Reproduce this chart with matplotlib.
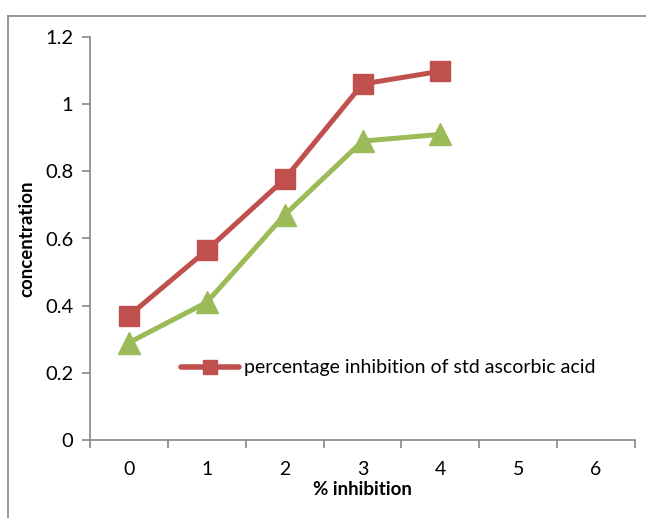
import numpy as np
import matplotlib.pyplot as plt
from matplotlib.lines import Line2D

# values
categories = [0, 1, 2, 3, 4, 5, 6]
std_ascorbic = [0.37, 0.565, 0.777, 1.06, 1.098]
sample = [0.29, 0.41, 0.67, 0.89, 0.91]
legend_label = "percentage inhibition of std ascorbic acid"

plt.rcParams['font.family'] = ['Lato', 'DejaVu Sans']

fig = plt.figure(figsize=(6.46, 5.18), dpi=100)
ax = fig.add_axes([90/646, 78/518, 545/646, 403/518])

gray = "#868686"
red = "#C0504D"
green = "#9BBB59"
fs = 14

x = np.arange(len(std_ascorbic))
ax.plot(x, std_ascorbic, color=red, lw=3.6, marker="s", ms=15,
        solid_joinstyle="round", solid_capstyle="round")
ax.plot(np.arange(len(sample)), sample, color=green, lw=3.6, marker="^", ms=16,
        solid_joinstyle="round", solid_capstyle="round")

ax.set_xlim(-0.5, len(categories) - 0.5)
ax.set_ylim(0, 1.2)
ax.set_yticks(np.arange(0, 1.21, 0.2))
ax.set_yticklabels(["0", "0.2", "0.4", "0.6", "0.8", "1", "1.2"])

# category labels without ticks, tick marks at the category boundaries
ax.set_xticks(categories)
ax.set_xticklabels([str(c) for c in categories])
ax.tick_params(axis="x", length=0, pad=15, labelsize=fs)
ax.set_xticks(np.arange(-0.5, len(categories), 1), minor=True)
ax.tick_params(axis="x", which="minor", length=6, width=1.2, color=gray)
ax.tick_params(axis="y", length=6, width=1.2, color=gray, labelsize=14.5, pad=6)

for side in ["top", "right"]:
    ax.spines[side].set_visible(False)
for side in ["left", "bottom"]:
    ax.spines[side].set_color(gray)
    ax.spines[side].set_linewidth(1.2)

ax.set_xlabel("% inhibition", fontweight="bold", fontsize=13.5, labelpad=2)
ax.set_ylabel("concentration", fontweight="bold", fontsize=13.5, labelpad=7)

handle = Line2D([], [], color=red, lw=4, marker="s", ms=10,
                solid_capstyle="round")
ax.legend([handle], [legend_label], loc="center left",
          bbox_to_anchor=(0.167, 0.179), frameon=False, fontsize=fs,
          handlelength=3.0, handletextpad=0.25, borderpad=0, borderaxespad=0)

# outer chart-area border (cut off at right and bottom)
fig.add_artist(Line2D([8/646, 8/646], [0, 1 - 16/518], color=gray, lw=1.2))
fig.add_artist(Line2D([8/646, 1], [1 - 16/518, 1 - 16/518], color=gray, lw=1.2))

fig.savefig("out.png", dpi=100)
